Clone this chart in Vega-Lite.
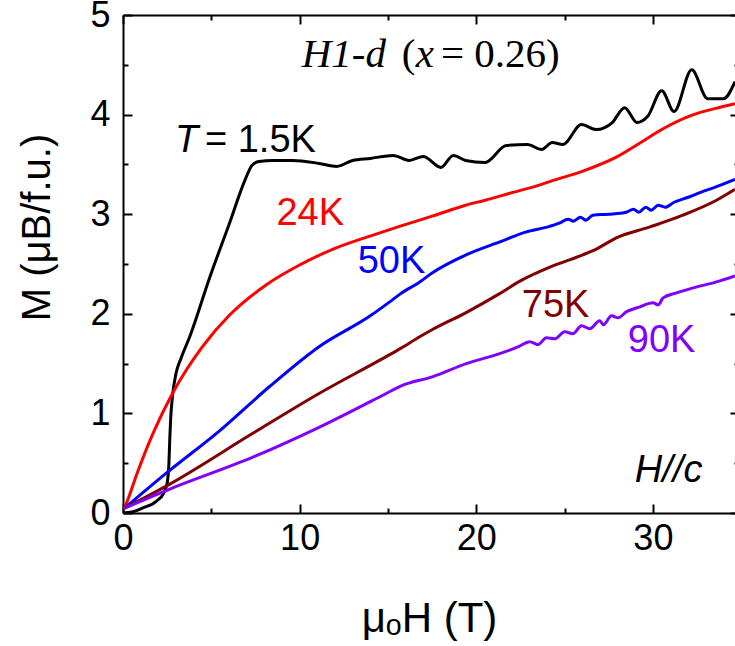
{
  "$schema": "https://vega.github.io/schema/vega-lite/v6.json",
  "width": 612,
  "height": 498,
  "autosize": {"type": "none"},
  "padding": {"left": 123, "top": 15, "right": 0, "bottom": 133},
  "background": "white",
  "config": {
    "view": {"stroke": null},
    "axis": {"grid": false, "domainColor": "black", "tickColor": "black", "labelColor": "black", "titleColor": "black", "labelFont": "Liberation Sans", "titleFont": "Liberation Sans", "tickWidth": 2, "domainWidth": 2}
  },
  "datasets": {
    "curves": [
      {"H": 0, "M": 0, "T": "1.5K"}, {"H": 0.5, "M": 0.01, "T": "1.5K"}, {"H": 1.1, "M": 0.05, "T": "1.5K"}, {"H": 1.9, "M": 0.12, "T": "1.5K"}, {"H": 2.3, "M": 0.2, "T": "1.5K"}, {"H": 2.5, "M": 0.3, "T": "1.5K"}, {"H": 2.6, "M": 0.5, "T": "1.5K"}, {"H": 2.65, "M": 0.75, "T": "1.5K"}, {"H": 2.7, "M": 0.95, "T": "1.5K"}, {"H": 2.8, "M": 1.17, "T": "1.5K"}, {"H": 3.0, "M": 1.4, "T": "1.5K"}, {"H": 3.3, "M": 1.56, "T": "1.5K"}, {"H": 3.8, "M": 1.78, "T": "1.5K"}, {"H": 4.9, "M": 2.36, "T": "1.5K"}, {"H": 6.05, "M": 2.92, "T": "1.5K"}, {"H": 6.9, "M": 3.34, "T": "1.5K"}, {"H": 7.3, "M": 3.49, "T": "1.5K"}, {"H": 7.7, "M": 3.53, "T": "1.5K"}, {"H": 8.5, "M": 3.54, "T": "1.5K"}, {"H": 9.6, "M": 3.54, "T": "1.5K"}, {"H": 11.1, "M": 3.51, "T": "1.5K"}, {"H": 12.1, "M": 3.48, "T": "1.5K"}, {"H": 13.0, "M": 3.54, "T": "1.5K"}, {"H": 14.0, "M": 3.56, "T": "1.5K"}, {"H": 15.3, "M": 3.59, "T": "1.5K"}, {"H": 16.2, "M": 3.54, "T": "1.5K"}, {"H": 17.0, "M": 3.58, "T": "1.5K"}, {"H": 18.0, "M": 3.47, "T": "1.5K"}, {"H": 18.7, "M": 3.59, "T": "1.5K"}, {"H": 19.4, "M": 3.54, "T": "1.5K"}, {"H": 20.5, "M": 3.52, "T": "1.5K"}, {"H": 21.7, "M": 3.69, "T": "1.5K"}, {"H": 22.9, "M": 3.7, "T": "1.5K"}, {"H": 23.7, "M": 3.65, "T": "1.5K"}, {"H": 24.3, "M": 3.72, "T": "1.5K"}, {"H": 24.9, "M": 3.7, "T": "1.5K"}, {"H": 25.96, "M": 3.9, "T": "1.5K"}, {"H": 26.8, "M": 3.85, "T": "1.5K"}, {"H": 27.7, "M": 3.92, "T": "1.5K"}, {"H": 28.4, "M": 4.07, "T": "1.5K"}, {"H": 29.1, "M": 3.92, "T": "1.5K"}, {"H": 29.7, "M": 3.98, "T": "1.5K"}, {"H": 30.5, "M": 4.24, "T": "1.5K"}, {"H": 31.2, "M": 4.03, "T": "1.5K"}, {"H": 32.2, "M": 4.45, "T": "1.5K"}, {"H": 33.1, "M": 4.16, "T": "1.5K"}, {"H": 34.0, "M": 4.16, "T": "1.5K"}, {"H": 34.65, "M": 4.33, "T": "1.5K"},
      {"H": 0.05, "M": 0.04, "T": "24K"}, {"H": 0.2, "M": 0.1, "T": "24K"}, {"H": 0.8, "M": 0.4, "T": "24K"}, {"H": 1.7, "M": 0.8, "T": "24K"}, {"H": 2.8, "M": 1.2, "T": "24K"}, {"H": 4.5, "M": 1.67, "T": "24K"}, {"H": 6.05, "M": 1.99, "T": "24K"}, {"H": 8.1, "M": 2.29, "T": "24K"}, {"H": 10.0, "M": 2.49, "T": "24K"}, {"H": 11.9, "M": 2.65, "T": "24K"}, {"H": 14.5, "M": 2.81, "T": "24K"}, {"H": 15.7, "M": 2.88, "T": "24K"}, {"H": 17.5, "M": 2.98, "T": "24K"}, {"H": 19.4, "M": 3.09, "T": "24K"}, {"H": 20.5, "M": 3.14, "T": "24K"}, {"H": 21.9, "M": 3.21, "T": "24K"}, {"H": 23.7, "M": 3.3, "T": "24K"}, {"H": 24.2, "M": 3.33, "T": "24K"}, {"H": 26.0, "M": 3.43, "T": "24K"}, {"H": 27.9, "M": 3.57, "T": "24K"}, {"H": 29.5, "M": 3.74, "T": "24K"}, {"H": 30.5, "M": 3.85, "T": "24K"}, {"H": 32.3, "M": 4.0, "T": "24K"}, {"H": 33.5, "M": 4.06, "T": "24K"}, {"H": 34.65, "M": 4.11, "T": "24K"},
      {"H": 0.1, "M": 0.05, "T": "50K"}, {"H": 2.45, "M": 0.4, "T": "50K"}, {"H": 5.5, "M": 0.83, "T": "50K"}, {"H": 8.3, "M": 1.27, "T": "50K"}, {"H": 11.1, "M": 1.67, "T": "50K"}, {"H": 14.0, "M": 1.98, "T": "50K"}, {"H": 15.1, "M": 2.12, "T": "50K"}, {"H": 15.7, "M": 2.2, "T": "50K"}, {"H": 16.8, "M": 2.32, "T": "50K"}, {"H": 17.5, "M": 2.41, "T": "50K"}, {"H": 19.4, "M": 2.59, "T": "50K"}, {"H": 21.3, "M": 2.72, "T": "50K"}, {"H": 22.8, "M": 2.82, "T": "50K"}, {"H": 24.0, "M": 2.87, "T": "50K"}, {"H": 24.7, "M": 2.91, "T": "50K"}, {"H": 25.2, "M": 2.95, "T": "50K"}, {"H": 25.5, "M": 2.93, "T": "50K"}, {"H": 25.9, "M": 2.97, "T": "50K"}, {"H": 26.2, "M": 2.94, "T": "50K"}, {"H": 26.6, "M": 2.99, "T": "50K"}, {"H": 27.5, "M": 3.0, "T": "50K"}, {"H": 28.5, "M": 3.02, "T": "50K"}, {"H": 28.9, "M": 3.05, "T": "50K"}, {"H": 29.2, "M": 3.02, "T": "50K"}, {"H": 29.6, "M": 3.07, "T": "50K"}, {"H": 29.9, "M": 3.04, "T": "50K"}, {"H": 30.3, "M": 3.09, "T": "50K"}, {"H": 30.7, "M": 3.07, "T": "50K"}, {"H": 31.2, "M": 3.12, "T": "50K"}, {"H": 32.0, "M": 3.17, "T": "50K"}, {"H": 32.7, "M": 3.22, "T": "50K"}, {"H": 33.5, "M": 3.27, "T": "50K"}, {"H": 34.65, "M": 3.35, "T": "50K"},
      {"H": 0.1, "M": 0.05, "T": "75K"}, {"H": 2.65, "M": 0.29, "T": "75K"}, {"H": 7.35, "M": 0.8, "T": "75K"}, {"H": 11.1, "M": 1.2, "T": "75K"}, {"H": 14.9, "M": 1.57, "T": "75K"}, {"H": 15.7, "M": 1.65, "T": "75K"}, {"H": 16.8, "M": 1.77, "T": "75K"}, {"H": 17.5, "M": 1.84, "T": "75K"}, {"H": 19.4, "M": 2.01, "T": "75K"}, {"H": 21.3, "M": 2.2, "T": "75K"}, {"H": 22.5, "M": 2.33, "T": "75K"}, {"H": 24.2, "M": 2.47, "T": "75K"}, {"H": 26.0, "M": 2.59, "T": "75K"}, {"H": 26.8, "M": 2.65, "T": "75K"}, {"H": 27.9, "M": 2.76, "T": "75K"}, {"H": 29.8, "M": 2.87, "T": "75K"}, {"H": 31.7, "M": 2.99, "T": "75K"}, {"H": 33.6, "M": 3.14, "T": "75K"}, {"H": 34.65, "M": 3.25, "T": "75K"},
      {"H": 0.1, "M": 0.05, "T": "90K"}, {"H": 2.65, "M": 0.24, "T": "90K"}, {"H": 7.35, "M": 0.56, "T": "90K"}, {"H": 11.1, "M": 0.86, "T": "90K"}, {"H": 14.9, "M": 1.2, "T": "90K"}, {"H": 15.67, "M": 1.27, "T": "90K"}, {"H": 17.55, "M": 1.37, "T": "90K"}, {"H": 19.44, "M": 1.5, "T": "90K"}, {"H": 21.33, "M": 1.6, "T": "90K"}, {"H": 22.4, "M": 1.67, "T": "90K"}, {"H": 23.03, "M": 1.72, "T": "90K"}, {"H": 23.5, "M": 1.69, "T": "90K"}, {"H": 23.97, "M": 1.76, "T": "90K"}, {"H": 24.45, "M": 1.75, "T": "90K"}, {"H": 25.01, "M": 1.82, "T": "90K"}, {"H": 25.48, "M": 1.8, "T": "90K"}, {"H": 25.96, "M": 1.88, "T": "90K"}, {"H": 26.43, "M": 1.85, "T": "90K"}, {"H": 26.99, "M": 1.93, "T": "90K"}, {"H": 27.2, "M": 1.89, "T": "90K"}, {"H": 27.66, "M": 1.98, "T": "90K"}, {"H": 28.03, "M": 1.96, "T": "90K"}, {"H": 28.5, "M": 2.02, "T": "90K"}, {"H": 29.26, "M": 2.07, "T": "90K"}, {"H": 30.01, "M": 2.11, "T": "90K"}, {"H": 30.3, "M": 2.09, "T": "90K"}, {"H": 30.58, "M": 2.16, "T": "90K"}, {"H": 31.34, "M": 2.21, "T": "90K"}, {"H": 32.28, "M": 2.26, "T": "90K"}, {"H": 33.6, "M": 2.32, "T": "90K"}, {"H": 34.65, "M": 2.38, "T": "90K"}
    ],
    "labels": [
      {"x": 4.64, "y": 3.624, "text": "= 1.5K", "T": "1.5K"},
      {"x": 8.69, "y": 2.89, "text": "24K", "T": "24K"},
      {"x": 13.29, "y": 2.41, "text": "50K", "T": "50K"},
      {"x": 22.58, "y": 1.968, "text": "75K", "T": "75K"},
      {"x": 28.58, "y": 1.616, "text": "90K", "T": "90K"}
    ],
    "italicSans": [
      {"x": 2.94, "y": 3.624, "text": "T"},
      {"x": 28.98, "y": 0.311, "text": "H//c"}
    ],
    "italicSerif": [
      {"x": 10.12, "y": 4.478, "text": "H1-d"},
      {"x": 16.58, "y": 4.478, "text": "x"}
    ],
    "serif": [
      {"x": 15.78, "y": 4.478, "text": "("},
      {"x": 18.0, "y": 4.478, "text": "= 0.26)"}
    ]
  },
  "resolve": {"axis": {"x": "independent", "y": "independent"}},
  "layer": [
    {
      "data": {"name": "curves"},
      "mark": {"type": "line", "strokeWidth": 3, "clip": true, "interpolate": "monotone"},
      "encoding": {
        "x": {"field": "H", "type": "quantitative", "scale": {"domain": [0, 34.65], "nice": false, "zero": false},
          "axis": {"orient": "bottom", "values": [0, 10, 20, 30], "tickSize": -9, "labelFontSize": 36, "labelPadding": 17, "labelFlush": false, "labelOverlap": false, "title": "μₒH (T)", "titleFontSize": 42, "titleFontWeight": "normal", "titlePadding": 42}},
        "y": {"field": "M", "type": "quantitative", "scale": {"domain": [0, 5], "nice": false, "zero": false},
          "axis": {"orient": "left", "values": [0, 1, 2, 3, 4, 5], "tickSize": -9, "labelFontSize": 36, "labelPadding": 22, "labelFlush": false, "labelOverlap": false, "title": "M (μB/f.u.)", "titleFontSize": 40, "titleFontWeight": "normal", "titleAngle": -90, "titleBaseline": "middle", "titleAlign": "center", "titleX": -86, "titleY": 212}},
        "color": {"field": "T", "type": "nominal", "scale": {"domain": ["1.5K", "24K", "50K", "75K", "90K"], "range": ["#000000", "#ff0000", "#0000ff", "#800000", "#8000ff"]}, "legend": null},
        "detail": {"field": "T"}
      }
    },
    {
      "data": {"name": "labels"},
      "mark": {"type": "text", "font": "Liberation Sans", "fontSize": 38, "align": "left", "baseline": "alphabetic"},
      "encoding": {
        "x": {"field": "x", "type": "quantitative", "scale": {"domain": [0, 34.65], "nice": false, "zero": false},
          "axis": {"orient": "bottom", "values": [5, 15, 25], "tickSize": -5, "labels": false, "domain": false, "title": null}},
        "y": {"field": "y", "type": "quantitative", "scale": {"domain": [0, 5], "nice": false, "zero": false},
          "axis": {"orient": "left", "values": [0.5, 1.5, 2.5, 3.5, 4.5], "tickSize": -5, "labels": false, "domain": false, "title": null}},
        "text": {"field": "text"},
        "color": {"field": "T", "type": "nominal", "legend": null}
      }
    },
    {
      "data": {"name": "italicSans"},
      "mark": {"type": "text", "font": "Liberation Sans", "fontSize": 38, "fontStyle": "italic", "align": "left", "baseline": "alphabetic", "color": "black"},
      "encoding": {
        "x": {"field": "x", "type": "quantitative", "scale": {"domain": [0, 34.65], "nice": false, "zero": false},
          "axis": {"orient": "top", "values": [0, 10, 20, 30], "tickSize": -9, "labels": false, "domain": true, "title": null}},
        "y": {"field": "y", "type": "quantitative", "scale": {"domain": [0, 5], "nice": false, "zero": false},
          "axis": {"orient": "right", "values": [0, 1, 2, 3, 4, 5], "tickSize": -9, "labels": false, "domain": false, "offset": 4, "title": null}},
        "text": {"field": "text"}
      }
    },
    {
      "data": {"name": "italicSerif"},
      "mark": {"type": "text", "font": "Liberation Serif", "fontSize": 41, "fontStyle": "italic", "align": "left", "baseline": "alphabetic", "color": "black"},
      "encoding": {
        "x": {"field": "x", "type": "quantitative", "scale": {"domain": [0, 34.65], "nice": false, "zero": false},
          "axis": {"orient": "top", "values": [5, 15, 25], "tickSize": -5, "labels": false, "domain": false, "title": null}},
        "y": {"field": "y", "type": "quantitative", "scale": {"domain": [0, 5], "nice": false, "zero": false},
          "axis": {"orient": "right", "values": [0.5, 1.5, 2.5, 3.5, 4.5], "tickSize": -5, "labels": false, "domain": false, "offset": 4, "title": null}},
        "text": {"field": "text"}
      }
    },
    {
      "data": {"name": "serif"},
      "mark": {"type": "text", "font": "Liberation Serif", "fontSize": 41, "align": "left", "baseline": "alphabetic", "color": "black"},
      "encoding": {
        "x": {"field": "x", "type": "quantitative", "scale": {"domain": [0, 34.65], "nice": false, "zero": false}, "axis": null},
        "y": {"field": "y", "type": "quantitative", "scale": {"domain": [0, 5], "nice": false, "zero": false}, "axis": null},
        "text": {"field": "text"}
      }
    }
  ]
}
